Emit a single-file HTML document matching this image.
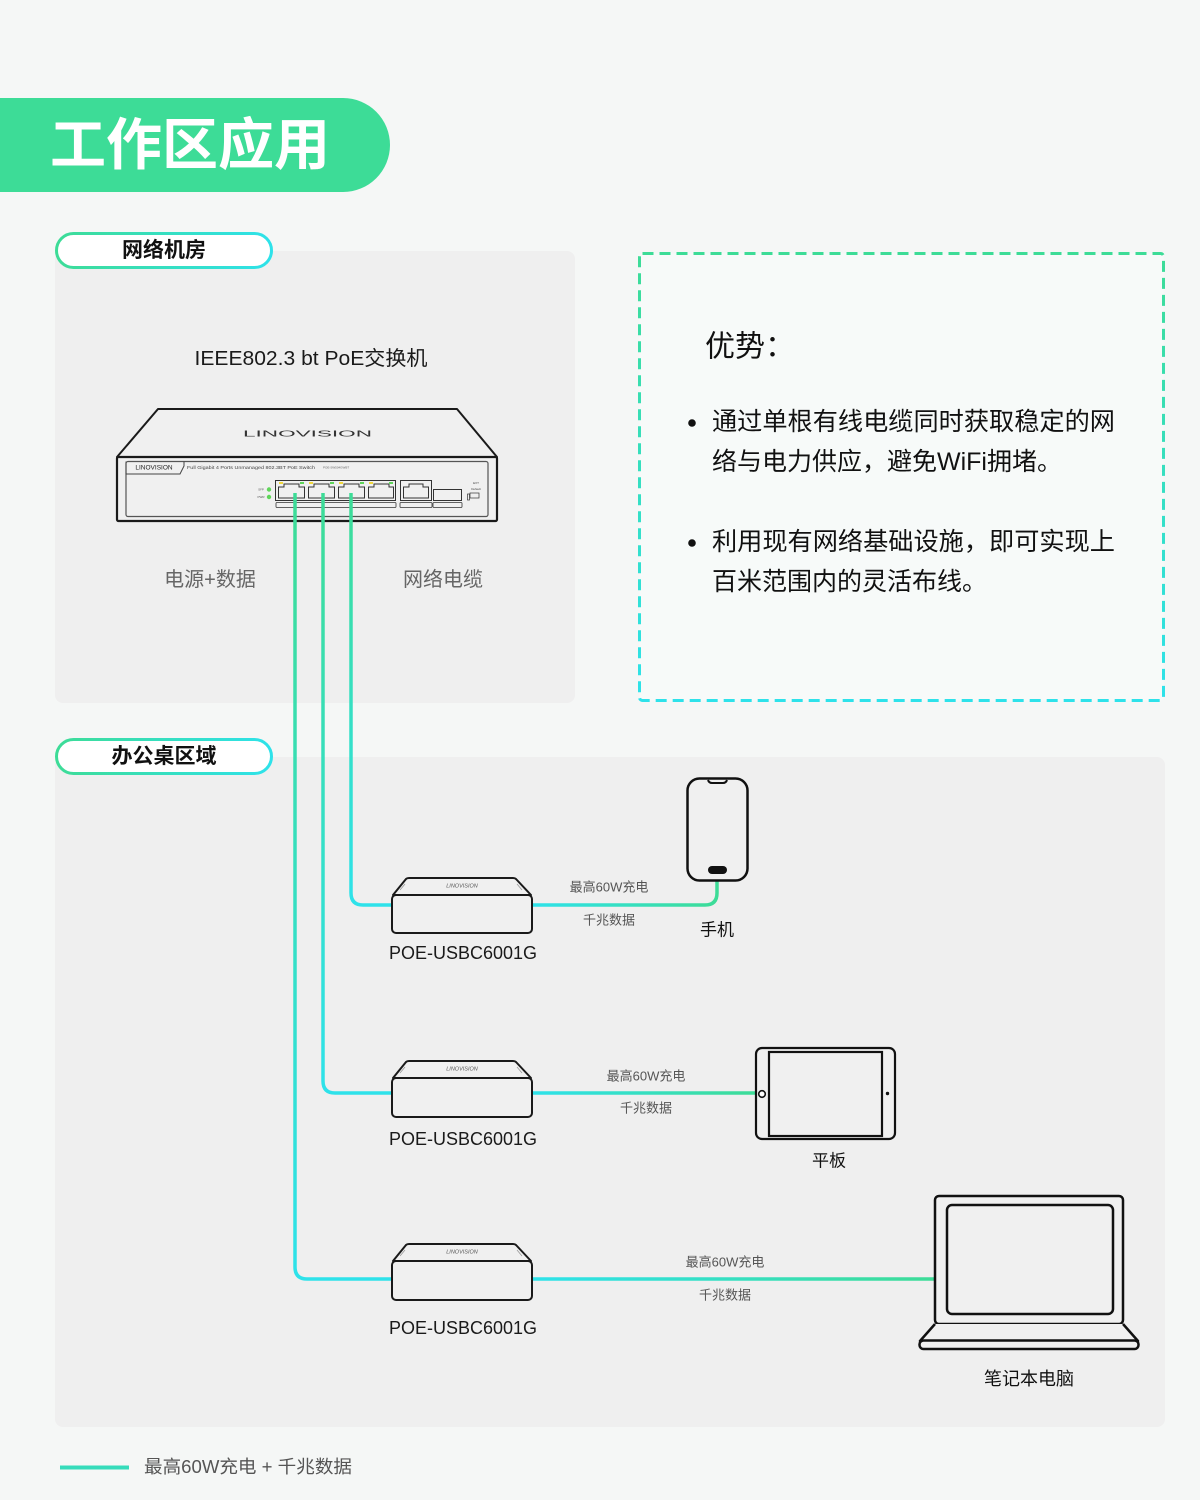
<!DOCTYPE html>
<html><head><meta charset="utf-8">
<style>
html,body{margin:0;padding:0;background:#f5f7f6;}
svg{display:block;}
text{font-family:"Liberation Sans","Noto Sans CJK SC",sans-serif;}
</style></head><body>
<svg width="1200" height="1500" viewBox="0 0 1200 1500" xmlns="http://www.w3.org/2000/svg">
<defs>
<linearGradient id="gp" x1="0" y1="0" x2="1" y2="0"><stop offset="0" stop-color="#3ddc97"/><stop offset="1" stop-color="#2ee2ea"/></linearGradient>
<linearGradient id="gd" x1="0" y1="0" x2="0" y2="1"><stop offset="0" stop-color="#3ddc97"/><stop offset="1" stop-color="#2ee2ea"/></linearGradient>
<linearGradient id="c3" gradientUnits="userSpaceOnUse" x1="0" y1="495" x2="0" y2="905"><stop offset="0" stop-color="#3ddc97"/><stop offset="1" stop-color="#2ee2ea"/></linearGradient>
<linearGradient id="c2" gradientUnits="userSpaceOnUse" x1="0" y1="495" x2="0" y2="1093"><stop offset="0" stop-color="#3ddc97"/><stop offset="1" stop-color="#2ee2ea"/></linearGradient>
<linearGradient id="c1" gradientUnits="userSpaceOnUse" x1="0" y1="495" x2="0" y2="1279"><stop offset="0" stop-color="#3ddc97"/><stop offset="1" stop-color="#2ee2ea"/></linearGradient>
<linearGradient id="h1" gradientUnits="userSpaceOnUse" x1="532" y1="0" x2="717" y2="0"><stop offset="0" stop-color="#2ee2ea"/><stop offset="1" stop-color="#3ddc97"/></linearGradient>
<linearGradient id="h2" gradientUnits="userSpaceOnUse" x1="532" y1="0" x2="756" y2="0"><stop offset="0" stop-color="#2ee2ea"/><stop offset="1" stop-color="#3ddc97"/></linearGradient>
<linearGradient id="h3" gradientUnits="userSpaceOnUse" x1="532" y1="0" x2="935" y2="0"><stop offset="0" stop-color="#2ee2ea"/><stop offset="1" stop-color="#3ddc97"/></linearGradient>
</defs>

<rect width="1200" height="1500" fill="#f5f7f6"/>

<!-- title -->
<path d="M0,98 H343 A47,47 0 0 1 343,192 H0 Z" fill="#3ddc97"/>
<text x="50" y="145" font-size="56" font-weight="bold" fill="#ffffff" dominant-baseline="central" textLength="280" lengthAdjust="spacingAndGlyphs">工作区应用</text>

<!-- panels -->
<rect x="55" y="251" width="520" height="452" rx="8" fill="#efefef"/>
<rect x="55" y="757" width="1110" height="670" rx="8" fill="#efefef"/>

<!-- pills -->
<rect x="56.5" y="233.5" width="215" height="34" rx="17" fill="#ffffff" stroke="url(#gp)" stroke-width="3"/>
<text x="164" y="250.5" font-size="21" font-weight="bold" fill="#111" text-anchor="middle" dominant-baseline="central">网络机房</text>
<rect x="56.5" y="739.5" width="215" height="34" rx="17" fill="#ffffff" stroke="url(#gp)" stroke-width="3"/>
<text x="164" y="756.5" font-size="21" font-weight="bold" fill="#111" text-anchor="middle" dominant-baseline="central">办公桌区域</text>

<!-- dashed box -->
<rect x="639.5" y="253.5" width="524" height="447" rx="3" fill="#f7faf9" stroke="url(#gd)" stroke-width="3" stroke-dasharray="11 6"/>
<text x="705" y="347" font-size="30" fill="#111" dominant-baseline="central">优势：</text>
<circle cx="692" cy="423" r="3.8" fill="#111"/>
<text x="712" y="422" font-size="25" fill="#111" dominant-baseline="central" textLength="403" lengthAdjust="spacingAndGlyphs">通过单根有线电缆同时获取稳定的网</text>
<text x="712" y="462" font-size="25" fill="#111" dominant-baseline="central">络与电力供应，避免WiFi拥堵。</text>
<circle cx="692" cy="543" r="3.8" fill="#111"/>
<text x="712" y="542" font-size="25" fill="#111" dominant-baseline="central" textLength="403" lengthAdjust="spacingAndGlyphs">利用现有网络基础设施，即可实现上</text>
<text x="712" y="582" font-size="25" fill="#111" dominant-baseline="central">百米范围内的灵活布线。</text>

<!-- switch -->
<text x="311" y="359" font-size="20" fill="#1a1a1a" text-anchor="middle" dominant-baseline="central" textLength="233" lengthAdjust="spacingAndGlyphs">IEEE802.3 bt PoE交换机</text>
<path d="M158,409 L457,409 L497,457 L117,457 Z" fill="#f0f0f0" stroke="#1a1a1a" stroke-width="2" stroke-linejoin="round"/>
<text x="307.5" y="434" font-size="8" fill="#333" text-anchor="middle" dominant-baseline="central" textLength="129" lengthAdjust="spacingAndGlyphs">LINOVISION</text>
<rect x="117" y="457" width="380" height="64" rx="1.5" fill="#f0f0f0" stroke="#1a1a1a" stroke-width="2.2"/>
<rect x="126" y="461.5" width="362" height="55" rx="2" fill="none" stroke="#555" stroke-width="1.2"/>
<path d="M126,461.5 V474 H180 L184,466 V461.5" fill="none" stroke="#444" stroke-width="1"/>
<text x="154" y="468" font-size="6.5" fill="#222" text-anchor="middle" dominant-baseline="central">LINOVISION</text>
<text x="187" y="467.5" font-size="4.6" fill="#444" dominant-baseline="central" textLength="128" lengthAdjust="spacingAndGlyphs">Full Gigabit 4 Ports Unmanaged 802.3BT PoE Switch</text>
<text x="323" y="467.5" font-size="3" fill="#666" dominant-baseline="central">POE-SW504GWBT</text>
<!-- leds -->
<circle cx="269" cy="489.5" r="2.2" fill="#5fd65a"/>
<circle cx="269" cy="497" r="2.2" fill="#5fd65a"/>
<text x="261" y="489.5" font-size="3" fill="#555" text-anchor="middle" dominant-baseline="central">SFP</text>
<text x="261" y="497" font-size="3" fill="#555" text-anchor="middle" dominant-baseline="central">PWR</text>
<!-- ports group -->
<rect x="275.5" y="480.5" width="120" height="20" fill="#f0f0f0" stroke="#333" stroke-width="1"/>
<g fill="none" stroke="#333" stroke-width="1">
<path d="M278.5,498 V487 H284 V484 H299 V487 H304.5 V498 Z"/>
<path d="M308.5,498 V487 H314 V484 H329 V487 H334.5 V498 Z"/>
<path d="M338.5,498 V487 H344 V484 H359 V487 H364.5 V498 Z"/>
<path d="M368.5,498 V487 H374 V484 H389 V487 H393.5 V498 Z"/>
</g>
<g fill="#f0d83a"><rect x="279" y="482" width="4" height="2"/><rect x="309" y="482" width="4" height="2"/><rect x="339" y="482" width="4" height="2"/><rect x="369" y="482" width="4" height="2"/><rect x="404" y="482" width="4" height="2"/></g>
<g fill="#5fd65a"><rect x="300" y="482" width="4" height="2"/><rect x="330" y="482" width="4" height="2"/><rect x="360" y="482" width="4" height="2"/><rect x="389" y="482" width="4" height="2"/><rect x="426" y="482" width="4" height="2"/></g>
<rect x="400.5" y="480.5" width="31" height="20" fill="#f0f0f0" stroke="#333" stroke-width="1"/>
<path d="M403.5,498 V487 H409 V484 H423 V487 H428.5 V498 Z" fill="none" stroke="#333" stroke-width="1"/>
<rect x="433.5" y="489.5" width="28" height="11" fill="#f0f0f0" stroke="#333" stroke-width="1"/>
<rect x="276" y="502.5" width="120" height="5" rx="1" fill="none" stroke="#333" stroke-width="0.8"/>
<rect x="400" y="502.5" width="32" height="5" rx="1" fill="none" stroke="#333" stroke-width="0.8"/>
<rect x="433" y="502.5" width="29" height="5" rx="1" fill="none" stroke="#333" stroke-width="0.8"/>
<rect x="470" y="493" width="9" height="5" fill="none" stroke="#333" stroke-width="0.7"/>
<rect x="467.5" y="494" width="2" height="6" fill="none" stroke="#333" stroke-width="0.7"/>
<text x="476" y="484" font-size="3" fill="#444" text-anchor="middle">EXT</text>
<text x="476" y="490" font-size="3" fill="#444" text-anchor="middle">Default</text>

<text x="210" y="580" font-size="20" fill="#666" text-anchor="middle" dominant-baseline="central">电源+数据</text>
<text x="443" y="580" font-size="20" fill="#666" text-anchor="middle" dominant-baseline="central">网络电缆</text>

<!-- cables -->
<g fill="none" stroke-width="3.5" stroke-linecap="butt">
<path d="M351,493 V893 Q351,905 363,905 H393" stroke="url(#c3)"/>
<path d="M323,493 V1081 Q323,1093 335,1093 H393" stroke="url(#c2)"/>
<path d="M295,493 V1267 Q295,1279 307,1279 H393" stroke="url(#c1)"/>
<path d="M531,905 H705 Q717,905 717,893 V880" stroke="url(#h1)"/>
<path d="M531,1093 H757" stroke="url(#h2)"/>
<path d="M531,1279 H936" stroke="url(#h3)"/>
</g>

<!-- converters -->
<g id="conv1">
<path d="M393,895 L406,879 Q407,878 409,878 H513 Q515,878 516,879 L531,895 Z" fill="#f0f0f0" stroke="#1a1a1a" stroke-width="2" stroke-linejoin="round"/>
<rect x="392" y="895" width="140" height="38" rx="4" fill="#f0f0f0" stroke="#1a1a1a" stroke-width="2"/>
<path d="M400,890 L405,884 M517,884 L522,890" stroke="#999" stroke-width="0.8"/>
<text x="462" y="886.5" font-size="5.5" fill="#555" text-anchor="middle" dominant-baseline="central" font-style="italic">LINOVISION</text>
<text x="463" y="953" font-size="18" fill="#1a1a1a" text-anchor="middle" dominant-baseline="central">POE-USBC6001G</text>
</g>
<g>
<path d="M393,1078 L406,1062 Q407,1061 409,1061 H513 Q515,1061 516,1062 L531,1078 Z" fill="#f0f0f0" stroke="#1a1a1a" stroke-width="2" stroke-linejoin="round"/>
<rect x="392" y="1078" width="140" height="39" rx="4" fill="#f0f0f0" stroke="#1a1a1a" stroke-width="2"/>
<path d="M400,1073 L405,1067 M517,1067 L522,1073" stroke="#999" stroke-width="0.8"/>
<text x="462" y="1069.5" font-size="5.5" fill="#555" text-anchor="middle" dominant-baseline="central" font-style="italic">LINOVISION</text>
<text x="463" y="1139" font-size="18" fill="#1a1a1a" text-anchor="middle" dominant-baseline="central">POE-USBC6001G</text>
</g>
<g>
<path d="M393,1261 L406,1245 Q407,1244 409,1244 H513 Q515,1244 516,1245 L531,1261 Z" fill="#f0f0f0" stroke="#1a1a1a" stroke-width="2" stroke-linejoin="round"/>
<rect x="392" y="1261" width="140" height="39" rx="4" fill="#f0f0f0" stroke="#1a1a1a" stroke-width="2"/>
<path d="M400,1256 L405,1250 M517,1250 L522,1256" stroke="#999" stroke-width="0.8"/>
<text x="462" y="1252.5" font-size="5.5" fill="#555" text-anchor="middle" dominant-baseline="central" font-style="italic">LINOVISION</text>
<text x="463" y="1328" font-size="18" fill="#1a1a1a" text-anchor="middle" dominant-baseline="central">POE-USBC6001G</text>
</g>

<!-- line labels -->
<g font-size="13" fill="#555" text-anchor="middle" dominant-baseline="central">
<text x="609" y="887">最高60W充电</text>
<text x="609" y="920">千兆数据</text>
<text x="646" y="1076">最高60W充电</text>
<text x="646" y="1108">千兆数据</text>
<text x="725" y="1262">最高60W充电</text>
<text x="725" y="1295">千兆数据</text>
</g>

<!-- phone -->
<rect x="687.5" y="778.5" width="60" height="102" rx="12" fill="#f0f0f0" stroke="#111" stroke-width="2.5"/>
<path d="M708,780 Q709,783 712,783 H723 Q726,783 727,780" fill="none" stroke="#111" stroke-width="2"/>
<rect x="708" y="866" width="19" height="8" rx="4" fill="#111"/>
<text x="717" y="930" font-size="17" fill="#111" text-anchor="middle" dominant-baseline="central">手机</text>

<!-- tablet -->
<rect x="756" y="1048" width="139" height="91" rx="6" fill="#f0f0f0" stroke="#111" stroke-width="2.2"/>
<rect x="769" y="1052" width="113" height="84" fill="#f0f0f0" stroke="#111" stroke-width="2.2"/>
<circle cx="762" cy="1094" r="3.3" fill="#fff" stroke="#111" stroke-width="1.6"/>
<circle cx="887.5" cy="1093.5" r="1.7" fill="#111"/>
<text x="829" y="1161" font-size="17" fill="#111" text-anchor="middle" dominant-baseline="central">平板</text>

<!-- laptop -->
<rect x="935" y="1196" width="188" height="128" rx="4" fill="#f0f0f0" stroke="#111" stroke-width="2.5"/>
<rect x="947" y="1205" width="166" height="109" rx="5" fill="#f0f0f0" stroke="#111" stroke-width="2.5"/>
<path d="M935,1324 L920,1341 H1138 L1123,1324" fill="#f0f0f0" stroke="#111" stroke-width="2.5" stroke-linejoin="round"/>
<rect x="919.5" y="1340.5" width="219" height="8.5" rx="4" fill="#f0f0f0" stroke="#111" stroke-width="2.5"/>
<text x="1029" y="1379" font-size="18" fill="#111" text-anchor="middle" dominant-baseline="central">笔记本电脑</text>

<!-- legend -->
<rect x="60" y="1465.5" width="69" height="4" fill="#36dcbb"/>
<text x="144" y="1467" font-size="18" fill="#555" dominant-baseline="central" textLength="208" lengthAdjust="spacingAndGlyphs">最高60W充电 + 千兆数据</text>
</svg>
</body></html>
